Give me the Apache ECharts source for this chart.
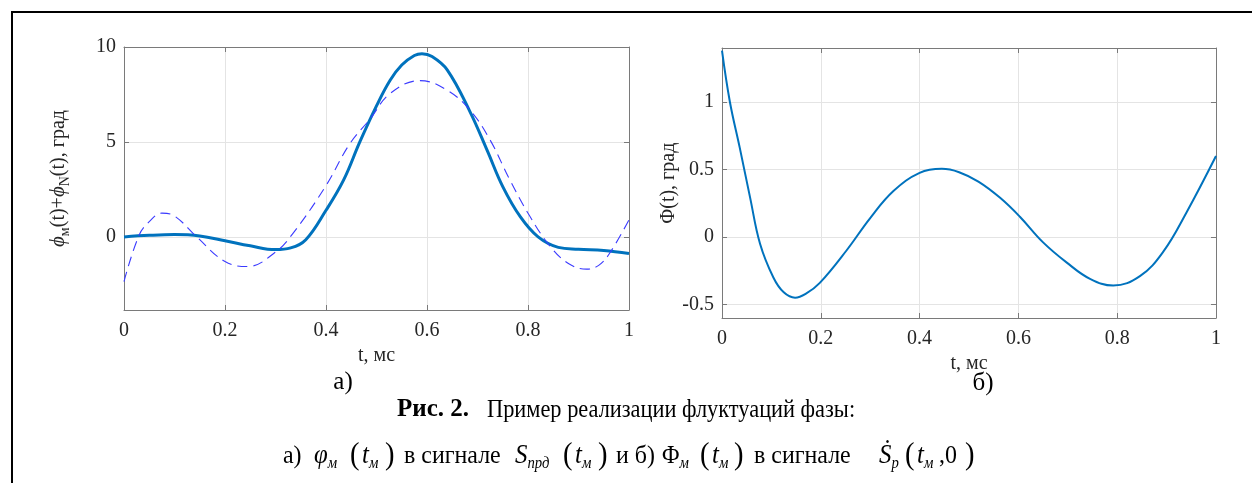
<!DOCTYPE html>
<html>
<head>
<meta charset="utf-8">
<script src="https://cdn.jsdelivr.net/npm/echarts@6/dist/echarts.min.js"></script>
<style>
html,body{margin:0;padding:0;background:#fff;}
#c{width:1252px;height:483px;}
</style>
</head>
<body>
<div id="c"></div>
<script>
// ---- data ----
const tSolidA = [0,0.05,0.1,0.15,0.2,0.25,0.3,0.33,0.36,0.4,0.435,0.467,0.5,0.527,0.55,0.575,0.59,0.61,0.64,0.685,0.72,0.75,0.785,0.82,0.86,0.9,0.95,1.0];
const vSolidA = [0.0,0.08,0.12,0.05,-0.2,-0.47,-0.67,-0.58,-0.15,1.4,3.0,5.0,6.9,8.25,9.05,9.55,9.65,9.5,8.8,6.6,4.5,2.65,1.05,0.0,-0.55,-0.65,-0.72,-0.88];
const tDashA = [0,0.03,0.05,0.075,0.1,0.144,0.2,0.245,0.3,0.335,0.4,0.447,0.487,0.527,0.586,0.639,0.685,0.725,0.764,0.804,0.844,0.88,0.916,0.94,0.962,1.0];
const vDashA = [-2.35,0.1,0.8,1.25,1.1,0.0,-1.3,-1.56,-0.8,0.2,2.7,4.9,6.2,7.55,8.23,7.74,6.68,5.1,3.0,1.07,-0.5,-1.4,-1.7,-1.5,-0.85,0.9];
const tB = [0,0.016,0.036,0.057,0.077,0.104,0.125,0.148,0.17,0.198,0.252,0.3,0.347,0.4,0.445,0.48,0.519,0.563,0.603,0.65,0.698,0.745,0.792,0.846,0.893,0.94,1.0];
const vB = [1.38,1.0,0.66,0.29,-0.05,-0.30,-0.41,-0.45,-0.42,-0.34,-0.1,0.14,0.34,0.475,0.505,0.48,0.41,0.29,0.15,-0.04,-0.19,-0.31,-0.36,-0.29,-0.11,0.18,0.6];
const xTicks = [0,0.2,0.4,0.6,0.8,1];
const yTicksA = [0,5,10];
const yTicksB = [-0.5,0,0.5,1];

const pairs = (xs, ys) => xs.map((x, i) => [x, ys[i]]);

const FONT = '"Liberation Serif", "Times New Roman", serif';
const AX = '#7a7a7a';
const GRIDC = '#e4e4e4';
const TXT = '#262626';

function xAx(gridIndex, show, gap) {
  return {
    type: 'value', gridIndex, min: 0, max: 1, interval: 0.2,
    position: show ? 'bottom' : 'top',
    name: show ? 't, мс' : '', nameLocation: 'middle', nameGap: gap || 0,
    nameTextStyle: {fontFamily: FONT, fontSize: 20, color: TXT},
    axisLine: {show: true, onZero: false, lineStyle: {color: AX, width: 1}},
    axisTick: {show: true, inside: true, length: 5, lineStyle: {color: AX}},
    axisLabel: {show: show, fontFamily: FONT, fontSize: 20, color: TXT, margin: 11,
      formatter: v => String(+v.toFixed(1))},
    splitLine: {show: show, lineStyle: {color: GRIDC, width: 1}}
  };
}
function yAx(gridIndex, show, min, max, ticks, name, nameGap, rich) {
  return {
    type: 'value', gridIndex, min, max,
    position: show ? 'left' : 'right',
    name: show ? name : '', nameLocation: 'middle', nameGap, nameRotate: 90,
    nameTextStyle: {fontFamily: FONT, fontSize: 20, color: TXT, rich},
    axisLine: {show: true, onZero: false, lineStyle: {color: AX, width: 1}},
    axisTick: {show: true, inside: true, length: 5, customValues: ticks, lineStyle: {color: AX}},
    axisLabel: {show: show, customValues: ticks, fontFamily: FONT, fontSize: 20, color: TXT, margin: 8,
      formatter: v => String(v)},
    splitLine: {show: show, lineStyle: {color: GRIDC, width: 1}}
  };
}

const richY = {
  i: {fontFamily: FONT, fontSize: 21, fontStyle: 'italic', color: TXT},
  n: {fontFamily: FONT, fontSize: 20, color: TXT},
  s: {fontFamily: FONT, fontSize: 14, color: TXT, padding: [13, 0, 0, 0]}
};

// caption line 2 pieces: [left x, rich text]
const capRich = {
  n: {fontFamily: FONT, fontSize: 26, color: '#000'},
  i: {fontFamily: FONT, fontSize: 27, fontStyle: 'italic', color: '#000'},
  p: {fontFamily: FONT, fontSize: 31, color: '#000'},
  s: {fontFamily: FONT, fontSize: 16, fontStyle: 'italic', color: '#000', padding: [16, 0, 0, 0]}
};
const capPieces = [
  [283, '{n|а)}'], [314, '{i|φ}{s|м}'], [350, '{p|(}'], [362, '{i|t}{s|м}'], [385, '{p|)}'],
  [404, '{n|в сигнале}'], [515, '{i|S}{s|прд}'], [563, '{p|(}'], [575, '{i|t}{s|м}'], [598, '{p|)}'],
  [616, '{n|и б)}'], [662, '{n|Φ}{s|м}'], [700, '{p|(}'], [712, '{i|t}{s|м}'], [734, '{p|)}'],
  [754, '{n|в сигнале}'], [879, '{i|Ṡ}{s|p}'], [905, '{p|(}'], [917, '{i|t}{s|м}'], [939, '{n|,0}'], [965, '{p|)}']
];

const graphics = [
  {type: 'line', shape: {x1: 12, y1: 12, x2: 1252, y2: 12}, style: {stroke: '#000', lineWidth: 2}},
  {type: 'line', shape: {x1: 12, y1: 11, x2: 12, y2: 483}, style: {stroke: '#000', lineWidth: 2}},
  {type: 'text', x: 343, y: 382, style: {text: 'а)', font: '25px ' + FONT, fill: '#000', align: 'center', verticalAlign: 'middle'}},
  {type: 'text', x: 983, y: 383, style: {text: 'б)', font: '25px ' + FONT, fill: '#000', align: 'center', verticalAlign: 'middle'}},
  {type: 'text', x: 397, y: 410, style: {text: 'Рис. 2.', font: 'bold 25px ' + FONT, fill: '#000', align: 'left', verticalAlign: 'middle'}},
  {type: 'text', x: 487, y: 410, scaleX: 0.86, style: {text: 'Пример реализации флуктуаций фазы:', font: '26px ' + FONT, fill: '#000', align: 'left', verticalAlign: 'middle'}}
];
capPieces.forEach(([x, t]) => graphics.push({
  type: 'text', x, y: 456, scaleX: 0.92,
  style: {text: t, rich: capRich, align: 'left', verticalAlign: 'middle'}
}));

const chart = echarts.init(document.getElementById('c'), null, {renderer: 'canvas'});
chart.setOption({
  backgroundColor: '#fff',
  animation: false,
  grid: [
    {left: 124, top: 47, width: 505, height: 263},
    {left: 722, top: 48, width: 494, height: 270}
  ],
  xAxis: [xAx(0, true, 36), xAx(0, false), xAx(1, true, 29), xAx(1, false)],
  yAxis: [
    yAx(0, true, -3.85, 10, yTicksA, '{i|ϕ}{s|м}{n|(t)+}{i|ϕ}{s|N}{n|(t), град}', 52, richY),
    yAx(0, false, -3.85, 10, yTicksA, '', 0, richY),
    yAx(1, true, -0.6, 1.4, yTicksB, 'Φ(t), град', 40, richY),
    yAx(1, false, -0.6, 1.4, yTicksB, '', 0, richY)
  ],
  series: [
    {type: 'line', xAxisIndex: 0, yAxisIndex: 0, data: pairs(tDashA, vDashA), smooth: 0.4,
      showSymbol: false, lineStyle: {color: '#3a3aff', width: 1.1, type: [10, 6]}, z: 3},
    {type: 'line', xAxisIndex: 0, yAxisIndex: 0, data: pairs(tSolidA, vSolidA), smooth: 0.4,
      showSymbol: false, lineStyle: {color: '#0072BD', width: 3}, z: 2},
    {type: 'line', xAxisIndex: 2, yAxisIndex: 2, data: pairs(tB, vB), smooth: 0.4,
      showSymbol: false, lineStyle: {color: '#0072BD', width: 2}, z: 2}
  ],
  graphic: graphics
});
</script>
</body>
</html>
